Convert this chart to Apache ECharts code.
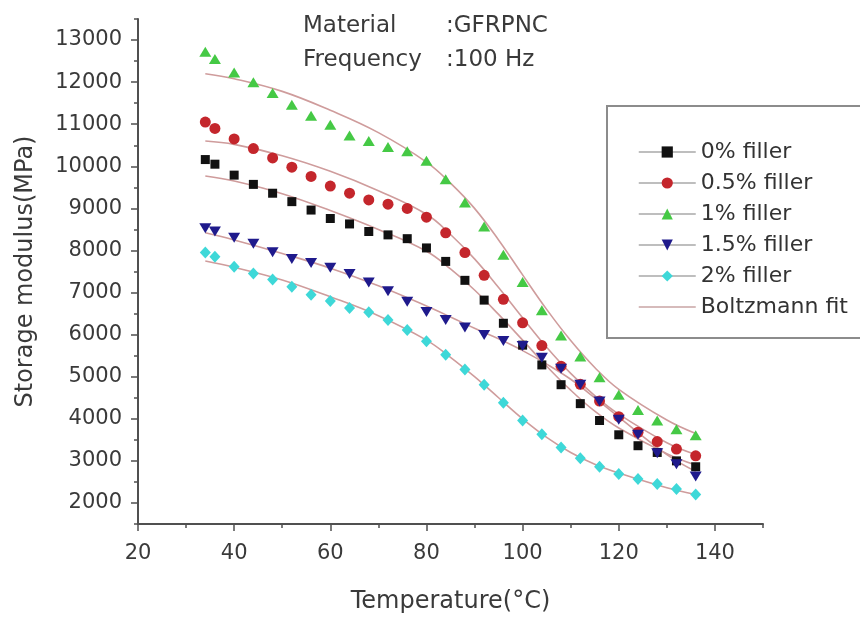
<!DOCTYPE html>
<html><head><meta charset="utf-8">
<script src="https://cdn.jsdelivr.net/npm/echarts@6/dist/echarts.min.js"></script>
<style>html,body{margin:0;padding:0;background:#fff}#c{width:860px;height:619px}</style>
</head><body><div id="c"></div>
<script>
// ---- data ----
const temps = [34,36,40,44,48,52,56,60,64,68,72,76,80,84,88,92,96,100,104,108,112,116,120,124,128,132,136];
const filler0  = [10160,10050,9790,9570,9360,9160,8960,8760,8630,8450,8370,8280,8060,7740,7290,6820,6270,5750,5280,4810,4360,3960,3620,3360,3200,3000,2860];
const filler05 = [11050,10900,10650,10420,10200,9980,9760,9530,9360,9200,9100,9000,8790,8420,7950,7410,6840,6280,5740,5250,4820,4420,4050,3680,3460,3280,3120];
const filler1  = [12720,12550,12230,12000,11740,11460,11200,10990,10730,10600,10460,10360,10130,9690,9140,8570,7900,7250,6580,5980,5480,4990,4570,4210,3960,3750,3610];
const filler15 = [8530,8450,8300,8160,7960,7800,7700,7590,7440,7240,7030,6780,6540,6350,6170,5990,5850,5730,5450,5190,4810,4410,3980,3620,3180,2920,2630];
const filler2  = [7950,7850,7610,7450,7310,7140,6950,6800,6630,6530,6350,6110,5840,5520,5170,4810,4380,3960,3630,3320,3060,2860,2690,2570,2450,2330,2200];

const fitTemps = [34,40,50,60,70,80,85,90,95,100,105,110,115,120,130,136];
const fit0  = [9770,9650,9350,8950,8500,7980,7560,7060,6480,5870,5250,4680,4180,3780,3170,2900];
const fit05 = [10600,10520,10250,9880,9420,8860,8380,7800,7120,6400,5700,5080,4550,4110,3430,3150];
const fit1  = [12200,12080,11780,11330,10800,10100,9600,9000,8250,7420,6600,5860,5220,4700,3970,3650];
const fit15 = [8420,8250,7930,7580,7160,6680,6420,6150,5900,5620,5300,4940,4500,4040,3150,2750];
const fit2  = [7750,7600,7300,6900,6450,5870,5460,5000,4500,4000,3560,3200,2920,2710,2360,2200];

const seriesNames = ['0% filler','0.5% filler','1% filler','1.5% filler','2% filler'];
const fitName = 'Boltzmann fit';
const xMajor = [20,40,60,80,100,120,140];
const xMinor = [30,50,70,90,110,130,150];
const yMajor = [2000,3000,4000,5000,6000,7000,8000,9000,10000,11000,12000,13000];
const yMinor = [1500,2500,3500,4500,5500,6500,7500,8500,9500,10500,11500,12500,13500];
const annotLabels = ['Material', 'Frequency'];
const annotValues = [':GFRPNC', ':100 Hz'];

// ---- build ----
const FONT = 'DejaVu Sans';
const AX = '#505050';
const FIT_COLOR = '#cf9c9c';
const pair = (xs, ys) => xs.map((x, i) => [x, ys[i]]);
const dataSets = [filler0, filler05, filler1, filler15, filler2];
const fits = [fit0, fit05, fit1, fit15, fit2];
const colors = ['#111111', '#c4262c', '#45c945', '#1f1a8c', '#3ed8d8'];
const symbols = ['rect', 'circle', 'triangle', 'path://M0,0 L10,0 L5,9 Z', 'diamond'];
const sizes = [[9,9], 11, [12,10], [12,10], [11,12]];

const series = [];
fits.forEach(f => series.push({
  name: fitName, type: 'line', data: pair(fitTemps, f), smooth: 0.4,
  showSymbol: false, symbol: 'none', z: 1,
  itemStyle: {color: FIT_COLOR},
  lineStyle: {color: FIT_COLOR, width: 1.6}
}));
dataSets.forEach((d, i) => series.push({
  name: seriesNames[i], type: 'line', data: pair(temps, d),
  symbol: symbols[i], symbolSize: sizes[i], showSymbol: true, z: 3,
  itemStyle: {color: colors[i]},
  lineStyle: {width: 0, opacity: 0}
}));

const chart = echarts.init(document.getElementById('c'));
chart.setOption({
  animation: false,
  backgroundColor: '#fff',
  grid: {left: 138, right: 97, top: 19, bottom: 92, containLabel: false},
  xAxis: [{
    type: 'value', min: 20, max: 150, interval: 10,
    axisLine: {show: true, onZero: false, lineStyle: {color: AX, width: 2}},
    axisTick: {show: true, customValues: xMajor, length: 7, lineStyle: {color: AX, width: 1.5}},
    axisLabel: {customValues: xMajor, fontFamily: FONT, fontSize: 21, color: '#3a3a3a', margin: 19,
      formatter: v => String(v)},
    splitLine: {show: false},
    name: 'Temperature(°C)', nameLocation: 'middle', nameGap: 66,
    nameTextStyle: {fontFamily: FONT, fontSize: 24, color: '#3a3a3a'}
  }, {
    type: 'value', min: 20, max: 150, interval: 10, position: 'bottom',
    axisLine: {show: false},
    axisTick: {show: true, customValues: xMinor, length: 4, lineStyle: {color: AX, width: 1.5}},
    axisLabel: {show: false}, splitLine: {show: false}
  }],
  yAxis: [{
    type: 'value', min: 1500, max: 13500, interval: 500,
    axisLine: {show: true, onZero: false, lineStyle: {color: AX, width: 2}},
    axisTick: {show: true, customValues: yMajor, length: 7, lineStyle: {color: AX, width: 1.5}},
    axisLabel: {customValues: yMajor, fontFamily: FONT, fontSize: 21, color: '#3a3a3a', margin: 16,
      formatter: v => String(v)},
    splitLine: {show: false},
    name: 'Storage modulus(MPa)', nameLocation: 'middle', nameGap: 100, nameRotate: 90,
    nameTextStyle: {fontFamily: FONT, fontSize: 24, color: '#3a3a3a'}
  }, {
    type: 'value', min: 1500, max: 13500, interval: 500, position: 'left',
    axisLine: {show: false},
    axisTick: {show: true, customValues: yMinor, length: 4, lineStyle: {color: AX, width: 1.5}},
    axisLabel: {show: false}, splitLine: {show: false}
  }],
  legend: {
    orient: 'vertical', left: 633, top: 136,
    itemWidth: 57, itemHeight: 14, itemGap: 9,
    textStyle: {fontFamily: FONT, fontSize: 22, color: '#333'},
    lineStyle: {color: '#a8a8a8', width: 1.5, opacity: 1},
    data: seriesNames.map(n => ({name: n})).concat([{
      name: fitName, itemStyle: {opacity: 0},
      lineStyle: {color: '#c9a4a4', width: 1.5, opacity: 1}
    }])
  },
  graphic: [
    {type: 'rect', shape: {x: 607, y: 106, width: 300, height: 232}, style: {fill: 'none', stroke: '#8c8c8c', lineWidth: 2}, z: 0},
    {type: 'text', x: 303, y: 15, style: {text: annotLabels[0], font: '23px "DejaVu Sans"', fill: '#3a3a3a'}},
    {type: 'text', x: 446, y: 15, style: {text: annotValues[0], font: '23px "DejaVu Sans"', fill: '#3a3a3a'}},
    {type: 'text', x: 303, y: 49, style: {text: annotLabels[1], font: '23px "DejaVu Sans"', fill: '#3a3a3a'}},
    {type: 'text', x: 446, y: 49, style: {text: annotValues[1], font: '23px "DejaVu Sans"', fill: '#3a3a3a'}}
  ],
  series: series
});
</script></body></html>
